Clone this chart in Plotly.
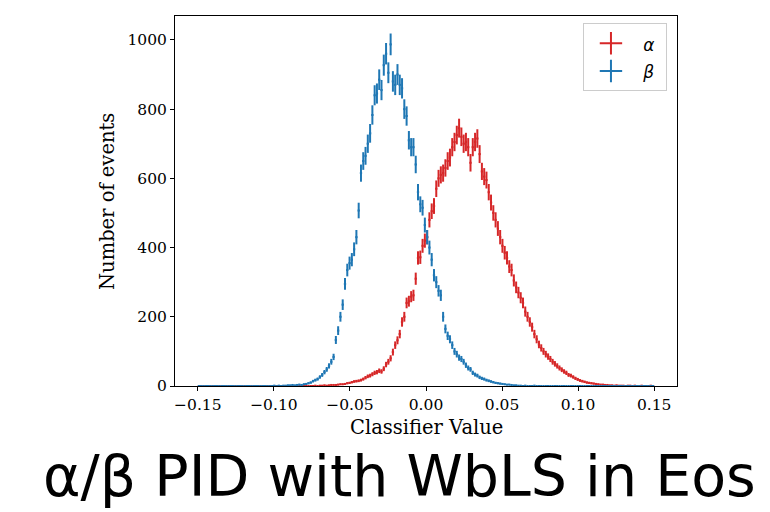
import numpy as np
import plotly.graph_objects as go

# Histogram binning (200 bins from -0.15 to 0.15)
bin_lo, bin_hi, n_bins = -0.15, 0.15, 200

# alpha (red) counts per bin
alpha_counts = [0] * 50 + [
    0, 1, 0, 1, 1, 2, 1, 2, 3, 3,
    3, 4, 5, 5, 6, 8, 9, 11, 13, 14,
    15, 17, 20, 24, 28, 30, 34, 38, 40, 44,
    42, 50, 62, 70, 80, 98, 118, 132, 150, 185,
    200, 240, 245, 258, 262, 310, 370, 372, 405, 420,
    430, 480, 505, 520, 570, 600, 610, 615, 630, 650,
    660, 690, 705, 725, 745, 720, 700, 705, 690, 645,
    690, 705, 715, 670, 620, 605, 595, 560, 530, 500,
    480, 455, 430, 405, 385, 370, 345, 335, 305, 285,
    270, 255, 240, 215, 200, 185, 170, 150, 135, 120,
    110, 100, 92, 85, 78, 70, 64, 58, 52, 47,
    42, 38, 32, 30, 26, 22, 19, 16, 14, 12,
    10, 9, 8, 7, 6, 5, 4, 4, 3, 3,
    2, 2, 1, 2, 1, 1, 1, 0, 1, 1,
    0, 1, 0, 0, 1, 0, 0, 0, 1, 0,
]

# beta (blue) counts per bin
beta_counts = [0] * 30 + [
    0, 0, 0, 1, 0, 1, 0, 1, 1, 2,
    2, 3, 2, 3, 4, 3, 5, 6, 8, 10,
    14, 17, 20, 26, 32, 40, 48, 58, 70, 84,
    133, 160, 200, 235, 295, 335, 355, 365, 395, 430,
    507, 615, 650, 665, 700, 730, 783, 840, 845, 885,
    855, 927, 960, 905, 987, 880, 870, 900, 870, 860,
    800, 780, 710, 690, 690, 640, 560, 525, 515, 465,
    430, 400, 365, 320, 300, 275, 262, 200, 165, 145,
    135, 118, 100, 92, 82, 78, 70, 60, 52, 48,
    38, 33, 30, 25, 22, 20, 17, 15, 13, 11,
    9, 8, 7, 6, 5, 4, 4, 3, 2, 2,
    1, 1, 0, 1, 0, 0, 0, 1, 0, 0,
] + [0] * 50

x_tick_vals = [-0.15, -0.10, -0.05, 0.00, 0.05, 0.10, 0.15]
x_tick_text = ["\u22120.15", "\u22120.10", "\u22120.05", "0.00", "0.05", "0.10", "0.15"]
y_tick_vals = [0, 200, 400, 600, 800, 1000]
series_names = ["<span style='font-size:17px'>\u00a0<i>\u03b1</i>\u00a0</span>",
                "<span style='font-size:17px'>\u00a0<i>\u03b2</i>\u00a0</span>"]
colors = ["#d62728", "#1f77b4"]

edges = np.linspace(bin_lo, bin_hi, n_bins + 1)
centers = 0.5 * (edges[:-1] + edges[1:])
half_w = 0.5 * (edges[1] - edges[0])

fig = go.Figure()
for counts, col in [(alpha_counts, colors[0]), (beta_counts, colors[1])]:
    c = np.array(counts, dtype=float)
    fig.add_trace(go.Scatter(
        x=centers, y=c, mode="markers",
        marker=dict(size=1, color="rgba(0,0,0,0)"),
        error_y=dict(type="data", array=np.sqrt(c), visible=True,
                     thickness=2, width=0, color=col),
        error_x=dict(type="constant", value=half_w, visible=True,
                     thickness=2, width=0, color=col),
        showlegend=False, hoverinfo="skip",
    ))

for name, col in zip(series_names, colors):
    fig.add_trace(go.Scatter(
        x=[None], y=[None], mode="markers", name=name,
        marker=dict(symbol="cross-thin", size=16, color=col,
                    line=dict(color=col, width=2)),
    ))

tick_font = dict(family="DejaVu Serif", size=15.5, color="black")
label_font = dict(family="DejaVu Serif", size=19.5, color="black")

# page body has an 8px margin, so the figure is 762x504 placed at (8, 8)
fig.update_layout(
    width=762, height=504,
    margin=dict(l=167, r=93, t=8, b=126),
    paper_bgcolor="white", plot_bgcolor="white",
    showlegend=True,
    legend=dict(
        x=0.98, y=0.98, xanchor="right", yanchor="top",
        bgcolor="rgba(255,255,255,0.8)", bordercolor="#cccccc", borderwidth=1,
        font=dict(family="DejaVu Sans", size=19, color="black"),
        itemwidth=44,
    ),
    xaxis=dict(
        range=[-0.165, 0.165], tickvals=x_tick_vals, ticktext=x_tick_text,
        showline=True, mirror=True, linecolor="black", linewidth=1,
        ticks="outside", ticklen=4, tickwidth=1, tickcolor="black",
        showgrid=False, zeroline=False, tickfont=tick_font,
    ),
    yaxis=dict(
        range=[0, 1069], tickvals=y_tick_vals,
        showline=True, mirror=True, linecolor="black", linewidth=1,
        ticks="outside", ticklen=4, tickwidth=1, tickcolor="black",
        showgrid=False, zeroline=False, tickfont=tick_font,
    ),
    annotations=[
        dict(text="Classifier Value", xref="paper", yref="paper",
             x=0.5, y=-0.111, xanchor="center", yanchor="middle",
             showarrow=False, font=label_font),
        dict(text="Number of events", xref="paper", yref="paper",
             x=-0.1355, y=0.5, xanchor="center", yanchor="middle",
             textangle=-90, showarrow=False, font=label_font),
        dict(text="\u03b1/\u03b2 PID with WbLS in Eos", xref="paper", yref="paper",
             x=-0.267, y=-0.243, xanchor="left", yanchor="middle",
             showarrow=False,
             font=dict(family="DejaVu Sans", size=57, color="black")),
    ],
)

fig.write_html("out.html")
